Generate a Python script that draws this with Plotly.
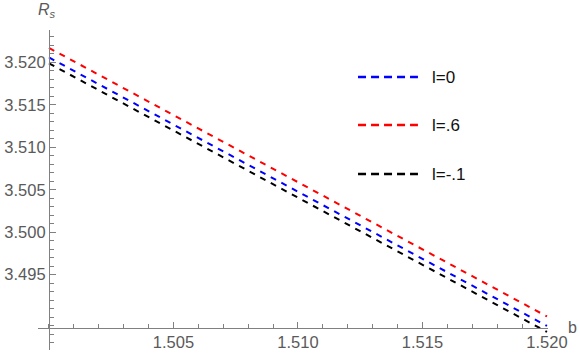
import plotly.graph_objects as go

# data
b_vals = [1.500, 1.505, 1.510, 1.515, 1.520]
rs_l0 = [3.52059, 3.51268, 3.50476, 3.49686, 3.48895]
rs_l06 = [3.52171, 3.51380, 3.50588, 3.49798, 3.49007]
rs_lm01 = [3.51989, 3.51198, 3.50406, 3.49616, 3.48825]

series_names = ['l=0', 'l=.6', 'l=-.1']
series_colors = ['blue', 'red', 'black']
series_values = [rs_l0, rs_l06, rs_lm01]

x_ticks = [1.505, 1.510, 1.515, 1.520]
y_ticks = [3.495, 3.500, 3.505, 3.510, 3.515, 3.520]

x_range = [1.49956, 1.52004]
y_range = [3.48612, 3.52382]
x_cross = 1.500
y_cross = 3.48877

axis_color = '#808080'
label_color = '#5a5a5a'
font_family = 'Liberation Sans, Arial, sans-serif'

fig = go.Figure()
for name, color, vals in zip(series_names, series_colors, series_values):
    fig.add_trace(go.Scatter(
        x=b_vals, y=vals, mode='lines', name=name,
        line=dict(color=color, width=2, dash='6px,6px'),
        showlegend=False))

# hand-made legend, Mathematica style
leg_y = [0.853, 0.703, 0.55]
for name, color, yy in zip(series_names, series_colors, leg_y):
    fig.add_shape(type='line', xref='paper', yref='paper',
                  x0=0.6275, x1=0.745, y0=yy, y1=yy,
                  line=dict(color=color, width=2.5, dash='8px,5px'))
    fig.add_annotation(xref='paper', yref='paper', x=0.7686, y=yy,
                       xanchor='left', yanchor='middle', showarrow=False,
                       text=name, font=dict(size=17, color='#111111'))

fig.add_annotation(xref='paper', yref='paper', x=0.0176, y=1.06,
                   xanchor='center', yanchor='middle', showarrow=False,
                   text='<i>R<sub>s</sub></i>',
                   font=dict(size=16, color=label_color))
fig.add_annotation(xref='paper', yref='paper', x=1.049, y=0.069,
                   xanchor='center', yanchor='middle', showarrow=False,
                   text='b', font=dict(size=16, color=label_color))

fig.update_layout(
    width=580, height=356,
    margin=dict(l=38, r=32, t=30, b=6, autoexpand=False),
    paper_bgcolor='white', plot_bgcolor='white',
    font=dict(family=font_family, size=16.5, color=label_color),
    xaxis=dict(
        range=x_range, anchor='free',
        position=(y_cross - y_range[0]) / (y_range[1] - y_range[0]),
        showgrid=False, zeroline=False, automargin=False,
        showline=True, linecolor=axis_color, linewidth=1,
        tickmode='array', tickvals=x_ticks,
        ticktext=['%.3f' % v for v in x_ticks],
        ticks='inside', ticklen=6, tickcolor=axis_color,
        minor=dict(dtick=0.001, tick0=1.500, ticks='inside',
                   ticklen=3.5, tickcolor=axis_color, showgrid=False),
    ),
    yaxis=dict(
        range=y_range, anchor='free',
        position=(x_cross - x_range[0]) / (x_range[1] - x_range[0]),
        showgrid=False, zeroline=False, automargin=False,
        showline=True, linecolor=axis_color, linewidth=1,
        tickmode='array', tickvals=y_ticks,
        ticktext=['%.3f' % v for v in y_ticks],
        ticks='inside', ticklen=6, tickcolor=axis_color,
        minor=dict(dtick=0.001, tick0=3.485, ticks='inside',
                   ticklen=4, tickcolor=axis_color, showgrid=False),
    ),
)

# page body has an 8px default margin; drop it so the figure fills the window
fig.write_html('out.html',
               config={'displayModeBar': False},
               post_script="document.body.style.margin='0';")
